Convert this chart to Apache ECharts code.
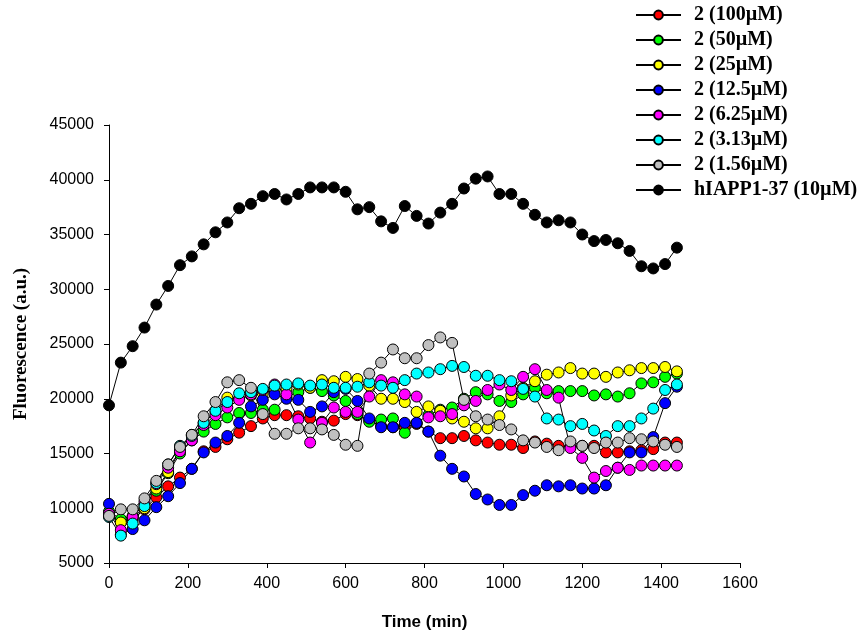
<!DOCTYPE html>
<html><head><meta charset="utf-8">
<script src="https://cdn.jsdelivr.net/npm/echarts@6/dist/echarts.min.js"></script>
<style>html,body{margin:0;padding:0;background:#fff}#c{width:862px;height:641px}</style>
</head><body><div id="c"></div>
<script>
const times = [0,30,60,90,120,150,180,210,240,270,300,330,360,390,420,450,480,510,540,570,600,630,660,690,720,750,780,810,840,870,900,930,960,990,1020,1050,1080,1110,1140,1170,1200,1230,1260,1290,1320,1350,1380,1410,1440];

const seriesNames = ['2 (100µM)','2 (50µM)','2 (25µM)','2 (12.5µM)','2 (6.25µM)','2 (3.13µM)','2 (1.56µM)','hIAPP1-37 (10µM)'];

const c100 = [9600,8700,9000,9900,11000,12000,12800,13600,15200,15600,16300,16900,17500,18200,18500,18500,18400,18200,17900,18000,18600,18500,18000,17500,17400,17400,17700,17000,16400,16400,16600,16200,16000,15800,15800,15500,16100,15900,15700,15600,15700,15700,15100,15100,15200,15300,15400,16000,16000];
const c50 = [9700,9000,9300,10300,11600,13200,15000,16200,17000,17700,18300,18700,18700,19000,19000,20200,20600,21000,20700,20300,19800,18600,17900,18100,18200,16900,17800,18500,19000,19200,20000,20600,20400,19800,19700,20400,21000,20500,20700,20700,20700,20300,20400,20200,20500,21400,21500,22000,22300];
const c25 = [9400,8700,9200,10000,11800,13300,15300,16700,17800,18800,20100,20000,20300,20500,20800,20900,21300,21000,21700,21600,22000,21800,21200,20000,20000,19700,18800,19300,18900,18200,17900,17300,17300,18400,20300,21000,21600,22200,22400,22800,22300,22300,22000,22400,22600,22800,22800,22900,22500];
const c12 = [10400,7600,8100,8900,10100,11100,12300,13600,15100,16000,16600,17800,19300,19900,20400,20000,19900,18800,19300,20600,20900,19800,18200,17400,17400,17800,17800,17000,14800,13600,12900,11300,10800,10300,10300,11200,11600,12100,12000,12100,11800,11800,12100,13700,15100,15100,16500,19600,21100];
const c6 = [9500,8000,9200,10600,12200,13700,15200,16200,17600,18500,19200,19900,20400,20800,21300,20400,18100,16000,17800,19200,18800,18800,20200,21700,21500,20400,20200,18300,18400,18600,19400,19800,20800,21300,20800,22000,22700,20800,20100,15500,14600,12800,13400,13700,13500,13900,13900,13900,13900];
const c3 = [9200,7500,8600,10200,12300,14000,15700,16600,17800,18900,19700,20500,20600,20900,21200,21300,21400,21200,21300,21000,21000,21100,21500,21200,21000,21700,22300,22400,22700,23000,22900,22100,22100,21700,21600,20900,20200,18200,18100,17500,17700,17100,16600,17500,17500,18200,19100,20800,21300];
const c1 = [9300,9900,9900,10900,12500,14000,15600,16700,18400,19700,21500,21700,21000,18600,16800,16800,17300,17300,17200,16700,15800,15700,22300,23300,24500,23700,23700,24900,25600,25100,19900,18400,18100,17600,17200,16200,16000,15600,15300,16100,15700,15500,16000,16000,16400,16300,16100,15800,15600];
const hiapp = [19400,23300,24800,26500,28600,30300,32200,33000,34100,35200,36100,37400,37800,38500,38700,38200,38700,39300,39300,39300,38900,37300,37500,36200,35600,37600,36700,36000,37000,37800,39200,40100,40300,38700,38700,37800,36800,36100,36300,36100,35000,34400,34500,34200,33500,32100,31900,32300,33800];

const seriesValues = [c100,c50,c25,c12,c6,c3,c1,hiapp];
const seriesColors = ['#ff0000','#00ff00','#ffff00','#0000ff','#ff00ff','#00ffff','#c0c0c0','#000000'];

const chart = echarts.init(document.getElementById('c'), null, {renderer:'canvas'});
const series = seriesValues.map((vals, k) => ({
  type: 'line',
  name: seriesNames[k],
  data: times.map((t, i) => [t, vals[i]]),
  symbol: 'circle',
  symbolSize: 11,
  showSymbol: true,
  showAllSymbol: true,
  lineStyle: {color: '#000', width: 1},
  itemStyle: {color: seriesColors[k], borderColor: '#000', borderWidth: 1},
  emphasis: {disabled: true},
  animation: false
}));

chart.setOption({
  animation: false,
  backgroundColor: '#fff',
  grid: {left: 109, right: 122, top: 125, bottom: 78, containLabel: false},
  legend: {
    orient: 'vertical', left: 635, top: 5, padding: 0, itemWidth: 45, itemHeight: 11, itemGap: 5,
    data: seriesNames,
    textStyle: {fontFamily: 'Liberation Serif', fontWeight: 'bold', fontSize: 20, color: '#000', lineHeight: 20, padding: [0,0,0,8]}
  },
  xAxis: {
    type: 'value', min: 0, max: 1600, interval: 200,
    name: 'Time (min)', nameLocation: 'middle', nameGap: 51,
    nameTextStyle: {fontFamily: 'Liberation Sans', fontWeight: 'bold', fontSize: 17, color: '#000'},
    axisLine: {show: true, onZero: false, lineStyle: {color: '#000', width: 1}},
    axisTick: {show: true, length: 5, lineStyle: {color: '#000'}},
    axisLabel: {fontFamily: 'Liberation Sans', fontSize: 16, color: '#000', margin: 13, formatter: v => String(v)},
    splitLine: {show: false}
  },
  yAxis: {
    type: 'value', min: 5000, max: 45000, interval: 5000,
    name: 'Fluorescence (a.u.)', nameLocation: 'middle', nameGap: 78,
    nameTextStyle: {fontFamily: 'Liberation Serif', fontWeight: 'bold', fontSize: 19, color: '#000'},
    axisLine: {show: true, onZero: false, lineStyle: {color: '#000', width: 1}},
    axisTick: {show: true, length: 5, lineStyle: {color: '#000'}},
    axisLabel: {fontFamily: 'Liberation Sans', fontSize: 16, color: '#000', margin: 15, formatter: v => String(v)},
    splitLine: {show: false}
  },
  series: series
});
</script></body></html>
